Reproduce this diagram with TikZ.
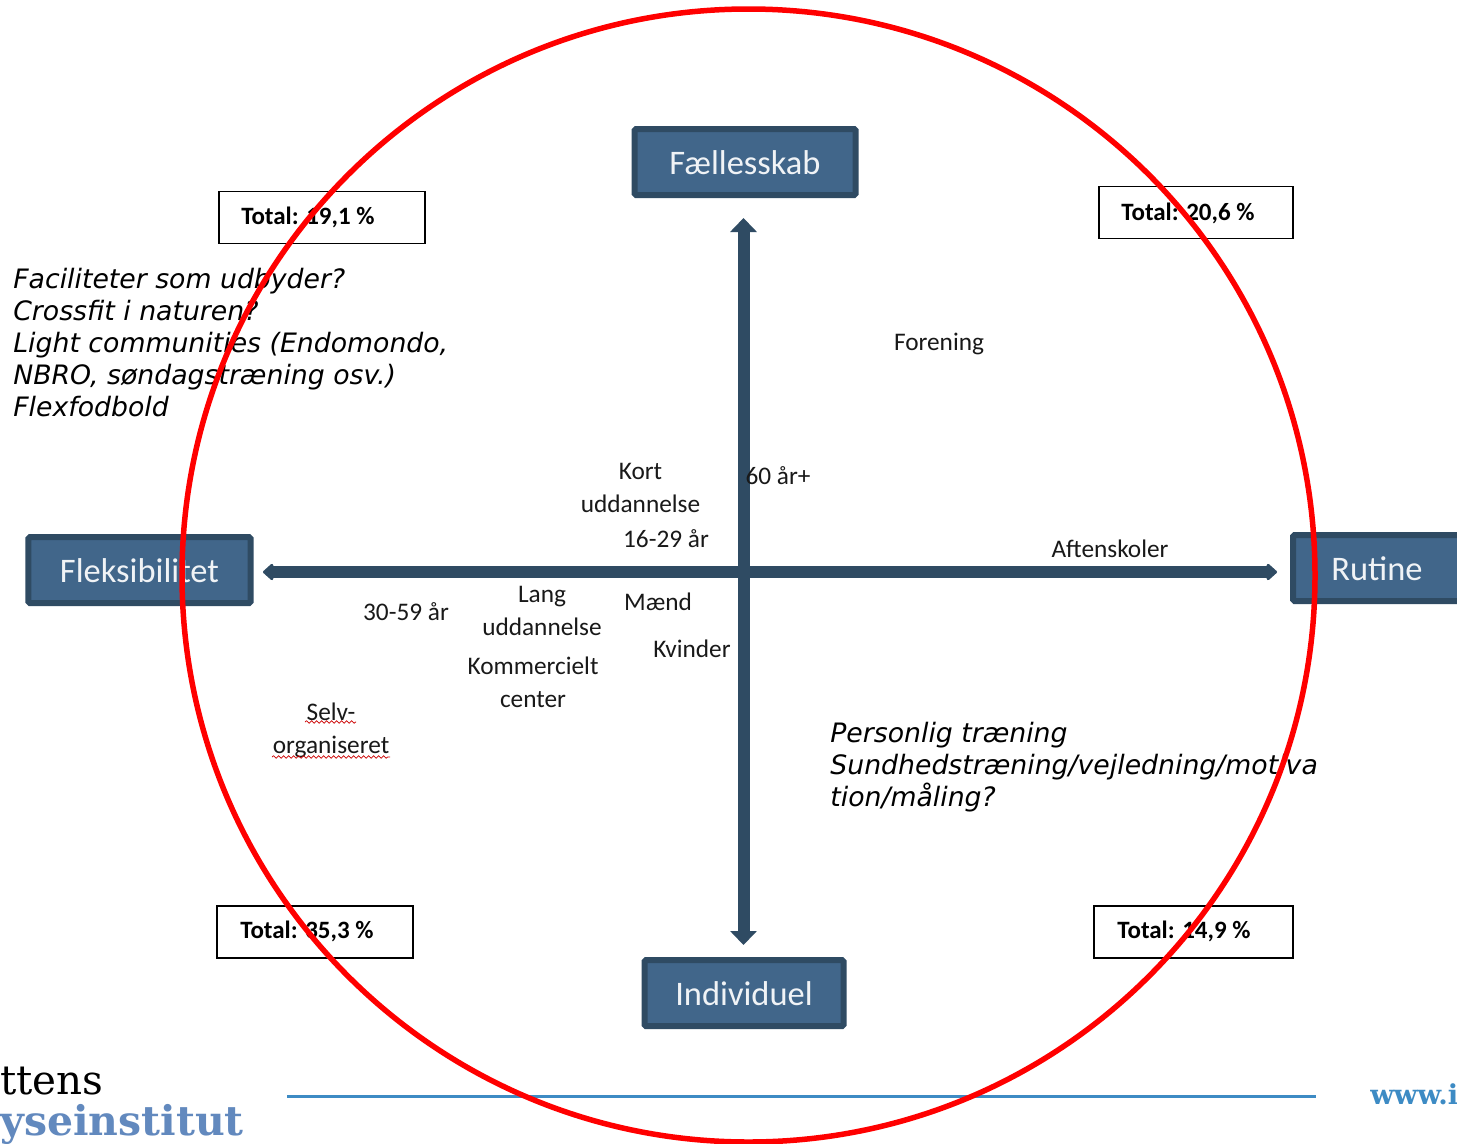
\documentclass[tikz,border=0pt]{standalone}
\usepackage{fontspec}
\setmainfont{Carlito}
\newfontfamily\notefont{DejaVu Sans}
\newfontfamily\logofont{DejaVu Serif}
\usetikzlibrary{arrows.meta}
\usetikzlibrary{decorations.pathmorphing}
\definecolor{panelfill}{RGB}{65,102,138}
\definecolor{paneldark}{RGB}{47,75,99}
\definecolor{logoblue}{RGB}{98,137,190}
\definecolor{ruleblue}{RGB}{61,139,196}
\tikzset{
  panelbox/.style={draw=paneldark, fill=panelfill, line width=1.2mm, rounded corners=0.3mm,
    minimum height=13.2mm, inner sep=0pt, text height=4.8mm, text depth=0mm,
    text=white!92!panelfill, font=\fontsize{19.6}{22}\selectfont},
  totalbox/.style={draw=black, line width=0.36mm, fill=white, minimum height=10.4mm, inner sep=0pt},
  totaltext/.style={anchor=west, inner sep=0pt, font=\fontsize{14.2}{16}\bfseries\selectfont},
  axisline/.style={draw=paneldark, line width=2.4mm},
  label/.style={inner sep=0pt, align=center, text=black!90, font=\fontsize{14.4}{18.7}\selectfont},
  note/.style={inner sep=0pt, anchor=north west, align=left, font=\notefont\itshape\fontsize{15.2}{18.2}\selectfont},
  squiggle/.style={red!80!black, line width=0.15mm, decorate, decoration={snake, amplitude=0.25mm, segment length=1mm}}
}
\begin{document}
\begin{tikzpicture}[x=0.2mm, y=-0.2mm]
        \clip (0,0) rectangle (1457,1143);
        \fill[white] (0,0) rectangle (1457,1143);

        % The four headings
        \node[panelbox, minimum width=44.2mm] (faelles) at (745,162) {Fællesskab};
        \node[panelbox, minimum width=44.4mm] (fleks) at (139.5,570) {Fleksibilitet};
        \node[panelbox, minimum width=33.6mm] (rutine) at (1377,568) {Rutine};
        \node[panelbox, minimum width=39.8mm] (indiv) at (744,993) {Individuel};

        % The axes
        \coordinate (axtop) at (743.5,218);
        \coordinate (axbot) at (743.5,945);
        \coordinate (axleft) at (263,572);
        \coordinate (axright) at (1277,572);
        \draw[axisline, {Triangle[length=2.8mm, width=5.2mm]}-{Triangle[length=2.8mm, width=5.2mm]}] (axtop) -- (axbot);
        \draw[axisline, {Triangle[length=2.2mm, width=3.8mm, round]}-{Triangle[length=2.2mm, width=3.8mm, round]}] (axleft) -- (axright);

        % The totals
        \node[totalbox, minimum width=41.2mm] (totalA) at (322,217.5) {};
        \node[totaltext] (totalAtxt) at (241,217) {Total: 19,1 \%};
        \node[totalbox, minimum width=38.8mm] (totalB) at (1196,212.5) {};
        \node[totaltext] (totalBtxt) at (1121,213) {Total: 20,6 \%};
        \node[totalbox, minimum width=39.2mm] (totalC) at (315,932) {};
        \node[totaltext] (totalCtxt) at (240,931) {Total: 35,3 \%};
        \node[totalbox, minimum width=39.8mm] (totalD) at (1193.5,932) {};
        \node[totaltext] (totalDtxt) at (1117,931) {Total: 14,9 \%};

        % The notes
        \node[note] (noteA) at (13,268) {Faciliteter som udbyder?\\Crossfit i naturen?\\Light communities (Endomondo,\\NBRO, søndagstræning osv.)\\Flexfodbold};
        \node[note] (noteB) at (830,722) {Personlig træning\\Sundhedstræning/vejledning/motiva\\tion/måling?};

        % The small labels
        \node[label] (forening) at (939,344) {Forening};
        \node[label] (kort) at (640.5,488) {Kort\\uddannelse};
        \node[label] (ung) at (666,539) {16-29 år};
        \node[label] (gammel) at (778,476) {60 år+};
        \node[label] (aften) at (1110,549) {Aftenskoler};
        \node[label] (mellem) at (406,612) {30-59 år};
        \node[label] (lang) at (542,611) {Lang\\uddannelse};
        \node[label] (maend) at (658,602) {Mænd};
        \node[label] (kvinder) at (692,649) {Kvinder};
        \node[label] (center) at (533,682) {Kommercielt\\center};
        \node[label] (selv) at (331,730) {Selv-\\organiseret};
        \draw[squiggle] (305,722) -- (356,722);
        \draw[squiggle] (272,757) -- (390,757);

        % The footer
        \draw[ruleblue, line width=0.6mm] (287,1096) -- (1316,1096);
        \node[anchor=base west, inner sep=0pt, font=\logofont\fontsize{23}{26}\selectfont] (logoA) at (0,1094) {ttens};
        \node[anchor=base west, inner sep=0pt, text=logoblue, font=\logofont\bfseries\fontsize{23.3}{26}\selectfont] (logoB) at (0,1135) {yseinstitut};
        \node[anchor=base west, inner sep=0pt, text=ruleblue, font=\logofont\bfseries\fontsize{15.6}{18}\selectfont] (logoC) at (1370,1104) {www.i};

        % The red ring goes over everything
        \draw[red, line width=1.1mm] (748.5,575.5) circle (566.5);
\end{tikzpicture}
\end{document}
